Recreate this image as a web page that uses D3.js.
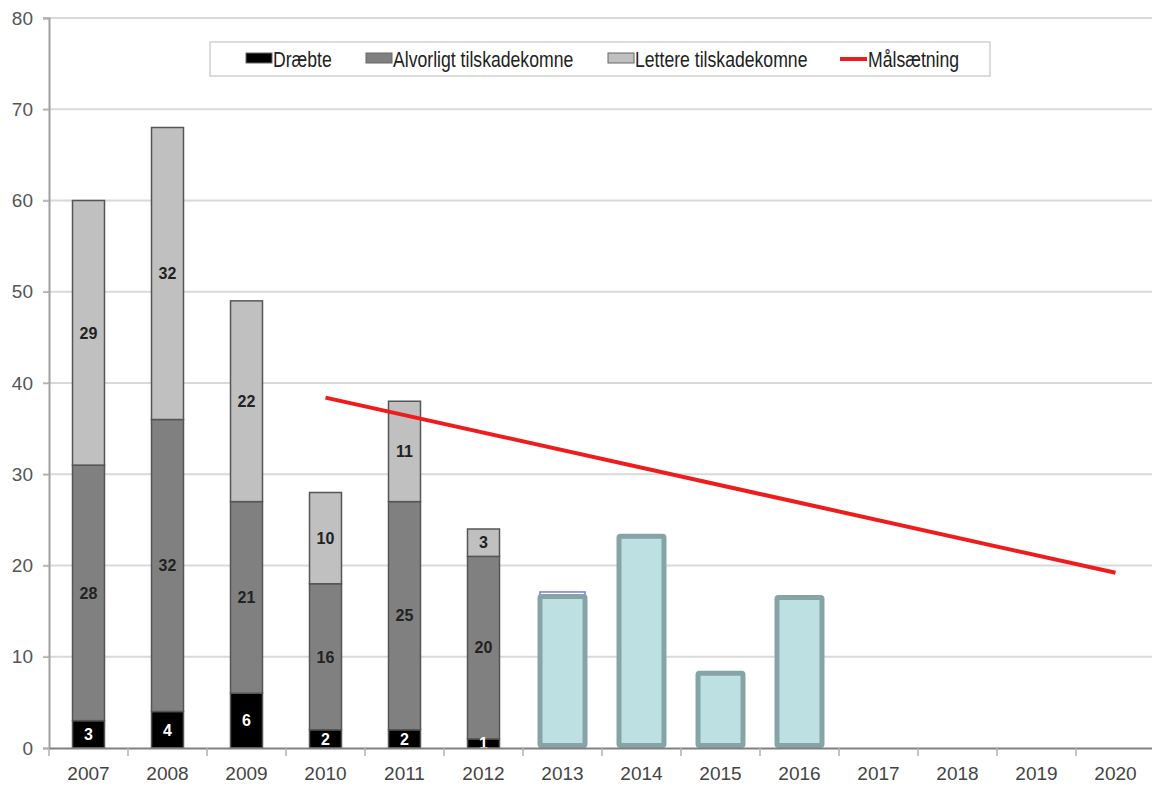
<!DOCTYPE html>
<html>
<head>
<meta charset="utf-8">
<script src="https://cdn.jsdelivr.net/npm/d3@7"></script>
<style>
  body { margin: 0; background: #fff; }
  svg { display: block; font-family: "Liberation Sans", Arial, sans-serif; }
</style>
</head>
<body>
<svg id="chart" width="1152" height="802"></svg>
<script>
// Categories and series
const years = ["2007", "2008", "2009", "2010", "2011", "2012", "2013", "2014",
  "2015", "2016", "2017", "2018", "2019", "2020"];
const stackYears = ["2007", "2008", "2009", "2010", "2011", "2012"];
const draebte = [3, 4, 6, 2, 2, 1];
const alvorligt = [28, 32, 21, 16, 25, 20];
const lettere = [29, 32, 22, 10, 11, 3];
const laterYears = ["2013", "2014", "2015", "2016"];
const laterTotals = [16.6, 23.2, 8.2, 16.5];
const hiddenYears = ["2013"];
const hiddenTotals = [17.1];
const targetYears = ["2010", "2020"];
const targetValues = [38.4, 19.2];
const yTicks = [0, 10, 20, 30, 40, 50, 60, 70, 80];

const seriesNames = ["Dræbte", "Alvorligt tilskadekomne", "Lettere tilskadekomne"];
const seriesColors = ["#000000", "#808080", "#c0c0c0"];
const labelColors = ["#ffffff", "#222222", "#222222"];

const svg = d3.select("#chart");

const x = d3.scaleBand().domain(years).range([49, 49 + 14 * 79]);
const y = d3.scaleLinear().domain([0, 80]).range([748, 18]);
const cx = (yr) => x(yr) + x.bandwidth() / 2;

// Gridlines
svg.append("g")
  .selectAll("line")
  .data(yTicks.slice(1))
  .join("line")
  .attr("x1", 43)
  .attr("x2", 1152)
  .attr("y1", (d) => y(d))
  .attr("y2", (d) => y(d))
  .attr("stroke", "#d9d9d9")
  .attr("stroke-width", 2);

// Y axis
const yAxis = svg.append("g")
  .attr("transform", "translate(49,0)")
  .call(d3.axisLeft(y).tickValues(yTicks).tickSize(6).tickPadding(10));
yAxis.select(".domain").attr("stroke", "#a0a0a0").attr("stroke-width", 2);
yAxis.selectAll(".tick line").attr("stroke", "#b0b0b0").attr("stroke-width", 1.5);
yAxis.selectAll(".tick text")
  .attr("font-size", 19)
  .attr("fill", "#555")
  .attr("font-family", "Liberation Sans, Arial, sans-serif");

// Stacked bars
const stackRows = stackYears.map((yr, i) => ({
  year: yr, s0: draebte[i], s1: alvorligt[i], s2: lettere[i]
}));
const stack = d3.stack().keys(["s0", "s1", "s2"])(stackRows);
const barW = 32;

const layers = svg.append("g")
  .selectAll("g")
  .data(stack)
  .join("g")
  .attr("fill", (d, i) => seriesColors[i]);

layers.selectAll("rect")
  .data((d) => d)
  .join("rect")
  .attr("x", (d) => cx(d.data.year) - barW / 2)
  .attr("width", barW)
  .attr("y", (d) => y(d[1]))
  .attr("height", (d) => y(d[0]) - y(d[1]))
  .attr("stroke", "#555")
  .attr("stroke-width", 1.5);

// Segment labels
stack.forEach((layer, li) => {
  svg.append("g")
    .selectAll("text")
    .data(layer)
    .join("text")
    .attr("x", (d) => cx(d.data.year))
    .attr("y", (d) => (y(d[0]) + y(d[1])) / 2)
    .attr("dy", "0.36em")
    .attr("text-anchor", "middle")
    .attr("font-size", 16)
    .attr("font-weight", "bold")
    .attr("fill", labelColors[li])
    .text((d) => d[1] - d[0]);
});

// Later years (single light teal bars)
const wideW = 45;
svg.append("g")
  .selectAll("rect")
  .data(hiddenYears.map((yr, i) => ({ year: yr, v: hiddenTotals[i] })))
  .join("rect")
  .attr("x", (d) => cx(d.year) - wideW / 2)
  .attr("width", wideW)
  .attr("y", (d) => y(d.v))
  .attr("height", (d) => y(0) - y(d.v))
  .attr("fill", "#fff")
  .attr("stroke", "#7a78e0")
  .attr("stroke-width", 1.5);

svg.append("g")
  .selectAll("rect")
  .data(laterYears.map((yr, i) => ({ year: yr, v: laterTotals[i] })))
  .join("rect")
  .attr("x", (d) => cx(d.year) - wideW / 2)
  .attr("width", wideW)
  .attr("y", (d) => y(d.v))
  .attr("height", (d) => y(0) - 2.5 - y(d.v))
  .attr("fill", "#bde0e3")
  .attr("stroke", "#86a3a5")
  .attr("stroke-width", 5)
  .attr("rx", 1.5);

// X axis
const xAxis = svg.append("g")
  .attr("transform", "translate(0,748)")
  .call(d3.axisBottom(x).tickSize(0).tickPadding(19));
xAxis.select(".domain").attr("stroke", "#808080").attr("stroke-width", 2);
xAxis.selectAll(".tick text")
  .attr("font-size", 19)
  .attr("fill", "#444")
  .attr("font-family", "Liberation Sans, Arial, sans-serif");

// Category boundary ticks
svg.append("g")
  .selectAll("line")
  .data(years)
  .join("line")
  .attr("x1", (d) => x(d))
  .attr("x2", (d) => x(d))
  .attr("y1", 748)
  .attr("y2", 756)
  .attr("stroke", "#b0b0b0")
  .attr("stroke-width", 1.5);

// Target line
const line = d3.line()
  .x((d) => cx(d.year))
  .y((d) => y(d.v));
svg.append("path")
  .datum(targetYears.map((yr, i) => ({ year: yr, v: targetValues[i] })))
  .attr("d", line)
  .attr("fill", "none")
  .attr("stroke", "#ee1c1c")
  .attr("stroke-width", 4);

// Legend
const legend = svg.append("g");
legend.append("rect")
  .attr("x", 210).attr("y", 42)
  .attr("width", 780).attr("height", 34)
  .attr("fill", "#fff")
  .attr("stroke", "#d0d0d0")
  .attr("stroke-width", 1.5);

function legendText(x0, label) {
  legend.append("text")
    .attr("transform", `translate(${x0},67) scale(0.82,1)`)
    .attr("font-size", 21.5)
    .attr("fill", "#222")
    .text(label);
}

const legendX = [246, 366, 608];
seriesNames.forEach((name, i) => {
  legend.append("rect")
    .attr("x", legendX[i]).attr("y", 53)
    .attr("width", 26).attr("height", 10)
    .attr("fill", seriesColors[i])
    .attr("stroke", "#666")
    .attr("stroke-width", 1);
  legendText(legendX[i] + 27, name);
});
legend.append("line")
  .attr("x1", 840).attr("x2", 867)
  .attr("y1", 59).attr("y2", 59)
  .attr("stroke", "#ee1c1c")
  .attr("stroke-width", 4);
legendText(868, "Målsætning");
</script>
</body>
</html>
